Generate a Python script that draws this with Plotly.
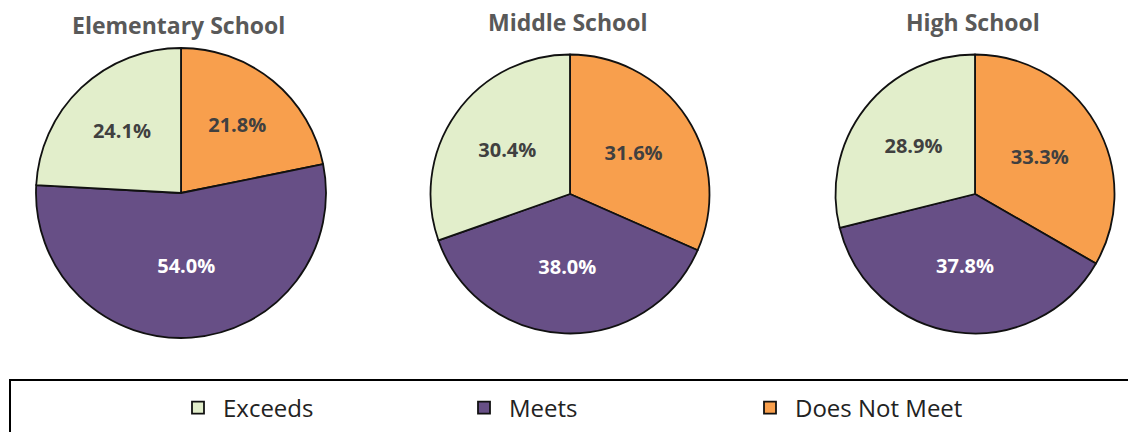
import plotly.graph_objects as go

schools = ["Elementary School", "Middle School", "High School"]
categories = ["Does Not Meet", "Meets", "Exceeds"]
does_not_meet = [21.8, 31.6, 33.3]
meets = [54.0, 38.0, 37.8]
exceeds = [24.1, 30.4, 28.9]

colors = ["#F89F4D", "#674F86", "#E2EECB"]
text_colors = ["#404040", "#FFFFFF", "#404040"]

W, H = 1128, 432
# pie centers / diameters in pixels
centers = [(181, 193), (570, 194), (975, 194)]
diams = [290, 279, 279]
title_pos = [(178, 25), (568, 22), (973, 22)]

fig = go.Figure()
for i, name in enumerate(schools):
    cx, cy = centers[i]
    d = diams[i]
    vals = [does_not_meet[i], meets[i], exceeds[i]]
    fig.add_trace(go.Pie(
        labels=categories,
        values=vals,
        name=name,
        sort=False,
        direction="clockwise",
        rotation=0,
        marker=dict(colors=colors, line=dict(color="#111111", width=1.8)),
        texttemplate="%{value:.1f}%",
        textposition="inside",
        insidetextorientation="horizontal",
        insidetextfont=dict(color=text_colors, size=20, family="Open Sans", weight="bold"),
        hoverinfo="label+value",
        showlegend=(i == 0),
        domain=dict(x=[(cx - d / 2) / W, (cx + d / 2) / W],
                    y=[1 - (cy + d / 2) / H, 1 - (cy - d / 2) / H]),
    ))
    tx, ty = title_pos[i]
    fig.add_annotation(text=name, x=tx / W, y=1 - ty / H, xref="paper", yref="paper",
                       showarrow=False, xanchor="center", yanchor="middle",
                       font=dict(size=23, color="#595959", family="Open Sans", weight="bold"))

fig.add_shape(type="rect", xref="paper", yref="paper",
              x0=10 / W, x1=1.02, y0=-0.05, y1=1 - 380 / H,
              line=dict(color="#000000", width=2), fillcolor="rgba(0,0,0,0)")

fig.update_layout(
    width=W, height=H,
    margin=dict(l=0, r=0, t=0, b=0),
    paper_bgcolor="white",
    plot_bgcolor="white",
    legend=dict(orientation="h", x=173 / W, xanchor="left", y=1 - 408 / H, yanchor="middle",
                entrywidth=231, entrywidthmode="pixels", traceorder="reversed",
                itemwidth=40,
                font=dict(size=24, color="#222222", family="Open Sans"),
                bgcolor="rgba(0,0,0,0)"),
)

fig.write_html("out.html", config={"displayModeBar": False},
               post_script="document.body.style.margin='0px';")
